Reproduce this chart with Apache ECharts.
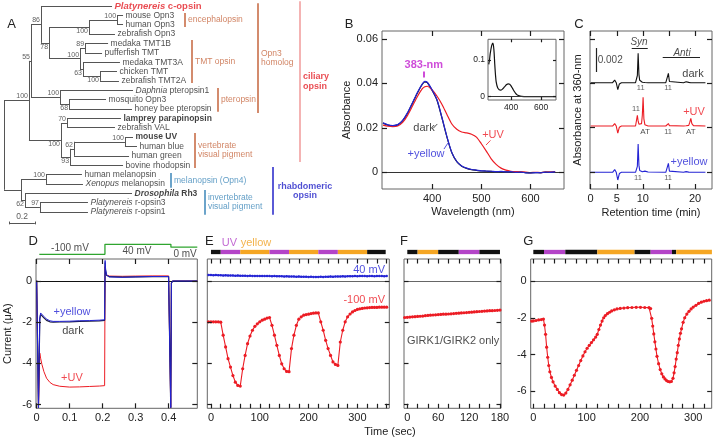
<!DOCTYPE html>
<html>
<head>
<meta charset="utf-8">
<script src="https://cdn.jsdelivr.net/npm/echarts@6.0.0/dist/echarts.min.js"></script>
<style>
html,body{margin:0;padding:0;background:#ffffff;}
#chart{width:713px;height:439px;}
</style>
</head>
<body>
<div id="chart"></div>
<script>
// ================= DATA =================
// ---- Panel A : phylogenetic tree ----
const leafLabels = [
  '{ri|Platynereis}{rb| c-opsin}',
  'mouse Opn3','human Opn3','zebrafish Opn3','medaka TMT1B','pufferfish TMT','medaka TMT3A','chicken TMT','zebrafish TMT2A',
  '{i|Daphnia} pteropsin1','mosquito Opn3','honey bee pteropsin',
  '{b|lamprey parapinopsin}','zebrafish VAL','{b|mouse UV}','human blue','human green','bovine rhodopsin',
  'human melanopsin','{i|Xenopus} melanopsin','{bi|Drosophila}{b| Rh3}','{i|Platynereis} r-opsin3','{i|Platynereis} r-opsin1'
];
const leafDepth = [0.844,0.930,0.930,0.867,0.813,0.766,0.906,0.883,0.898,1.008,0.797,1.000,0.914,0.867,1.008,1.039,0.977,0.930,0.609,0.617,1.000,0.656,0.656];
const nodeIds   = ['root','cil','n55','n86','n78','enc','mh','tmt','n89','n63','n100b','pter','n68','vert','n70','n93','n62b','n100c','rh','mel','n62','n97'];
const nodeDepth = [0,0.195,0.211,0.289,0.352,0.664,0.883,0.594,0.633,0.617,0.750,0.438,0.508,0.445,0.492,0.516,0.547,0.945,0.133,0.328,0.164,0.281];
const nodeKids  = [['cil','rh'],['n55','vert'],['n86','pter'],[0,'n78'],['enc','tmt'],['mh',3],[1,2],['n89','n63'],[4,5],[6,'n100b'],[7,8],[9,'n68'],[10,11],['n70','n93'],[12,13],['n62b',17],['n100c',16],[14,15],['mel','n62'],[18,19],[20,'n97'],[21,22]];
const nodeBoot  = [null,100,55,86,78,100,100,100,89,63,100,100,68,100,70,93,62,100,null,100,62,97];
const cladeNames = ['encephalopsin','TMT opsin','pteropsin','Opn3\nhomolog','vertebrate\nvisual pigment','ciliary\nopsin','melanopsin (Opn4)','invertebrate\nvisual pigment','rhabdomeric\nopsin'];
const scaleBarLength = 0.2;

// ---- Panel B : absorption spectra ----
const wavelength = [300,310,320,330,340,350,360,370,380,385,390,400,410,420,430,440,450,460,470,480,490,500,510,520,530,540,550,560,570,580,590,600,610,620,630,640,650];
const absDark   = [0.0221,0.0212,0.0209,0.0213,0.0232,0.0266,0.0311,0.0357,0.0396,0.0407,0.0403,0.0368,0.0323,0.0243,0.0158,0.0087,0.0047,0.0027,0.0017,0.0011,0.0008,0.0005,0.0004,0.0003,0.0002,0.0002,0.0001,0.0001,0,0,-0.0002,-0.0003,-0.0002,-0.0002,0,0,0.0001];
const absUV     = [0.0212,0.0207,0.0205,0.0208,0.0224,0.0256,0.0298,0.0341,0.0376,0.0385,0.0387,0.0370,0.0342,0.0305,0.0260,0.0217,0.0193,0.0181,0.0177,0.0171,0.0158,0.0128,0.0095,0.0060,0.0035,0.0018,0.0009,0.0004,0.0002,0.0001,0,-0.0002,-0.0001,-0.0002,0,0,0.0001];
const absYellow = [0.0222,0.0213,0.0210,0.0214,0.0233,0.0268,0.0313,0.0359,0.0398,0.0409,0.0405,0.0370,0.0325,0.0245,0.0160,0.0088,0.0048,0.0028,0.0018,0.0012,0.0009,0.0006,0.0005,0.0004,0.0002,0.0003,0.0001,0.0002,-0.0001,0,-0.0003,-0.0004,-0.0002,-0.0003,0,-0.0001,0.0001];
const insetWavelength = [250,255,260,270,278,285,290,295,300,310,320,330,340,350,360,370,380,390,400,410,420,430,440,450,470,500,550,600,650,700];
const insetAbs = [0.088,0.100,0.118,0.140,0.146,0.125,0.090,0.060,0.040,0.024,0.019,0.018,0.020,0.024,0.029,0.033,0.035,0.034,0.029,0.022,0.015,0.009,0.005,0.003,0.001,0,0,0,0,0];
const peakLambda = 383;
const bXTicks = [400,500,600], bYTicks = [0,0.02,0.04,0.06];
const insetXTicks = [400,600], insetYTicks = [0,0.1];

// ---- Panel C : HPLC ----
const retTime    = [0,4.2,4.6,4.9,5.2,5.5,5.9,8.6,8.8,8.95,9.1,9.25,9.4,9.55,9.75,9.9,10.05,10.2,10.4,10.7,11.0,14.4,14.7,14.9,15.1,15.4,17.8,18.3,18.8,19.0,19.2,19.4,19.7,22];
const hplcDark   = [0,0,0.00022,0,-0.00058,-0.0001,0,0,0.00005,0.0006,0.00245,0.0007,0.0002,0.0001,0.00006,0.00004,0.00003,0.00003,0.00002,0.00003,0,0,0.0001,0.00078,0.0001,0.00002,0,0.00008,0.00003,0.00001,0,0,0,0];
const hplcUV     = [0,0,0.0002,0,-0.0006,-0.0001,0,0,0.0001,0.0009,0.0004,0.00015,0.0001,0.0001,0.0002,0.0009,0.0024,0.0006,0.0001,0.00005,0,0,0.00003,0.0002,0.00003,0,0,0.00002,0.00005,0.0003,0.00064,0.0002,0.00003,0];
const hplcYellow = [0,0,0.00023,0,-0.00064,-0.0001,0,0,0.00004,0.0005,0.00236,0.0006,0.00015,0.0001,0.00006,0.00004,0.00005,0.00008,0.0001,0.00012,0.00003,0,0.0001,0.00075,0.0001,0.00002,0,0.00006,0.00002,0,0,0,0,0];
const cXTicks = [0,5,10,15,20];
const cXLabels = [0,5,10,20];
const cYTicks = [0.00142,0.00511,0.00881,0.0125];

// ---- Panel D : current traces ----
const dTime   = [0,0.005,0.0055,0.009,0.0095,0.012,0.016,0.022,0.03,0.04,0.05,0.07,0.1,0.13,0.16,0.19,0.206,0.2075,0.209,0.212,0.22,0.26,0.3,0.35,0.4,0.406,0.4065,0.408,0.4085,0.412,0.45,0.487];
const dDark   = [0.02,0.02,-6.15,-6.15,-1.85,-1.62,-1.67,-1.79,-1.91,-1.98,-2.0,-1.99,-1.98,-1.96,-1.95,-1.93,-1.91,0.9,0.5,0.28,0.21,0.19,0.2,0.21,0.22,0.22,-6.15,-6.15,-0.1,0,0,0];
const dUV     = [0.02,0.02,-6.15,-6.15,-3.5,-3.75,-4.05,-4.4,-4.72,-4.92,-5.03,-5.11,-5.15,-5.14,-5.12,-5.1,-5.08,0.7,0.4,0.3,0.24,0.23,0.24,0.25,0.25,0.25,-6.15,-6.15,-0.1,0,0,0];
const dYellow = [0.02,0.02,-6.15,-6.15,-1.8,-1.55,-1.6,-1.72,-1.85,-1.93,-1.96,-1.96,-1.95,-1.93,-1.92,-1.9,-1.88,1.0,0.55,0.3,0.2,0.18,0.2,0.22,0.22,0.22,-6.15,-6.15,-0.1,0,0,0];
const protoTime = [0.008,0.207,0.207,0.407,0.407,0.487];
const protoMv   = [-100,-100,40,40,0,0];
const dXTicks = [0,0.1,0.2,0.3,0.4];
const currentTicks = [0,-2,-4,-6];

// ---- Panel E ----
const eTime = [-5,0,5,10,15,20,25,30,35,40,45,50,55,60,65,70,75,80,85,90,95,100,105,110,115,120,125,130,135,140,145,150,155,160,165,170,175,180,185,190,195,200,205,210,215,220,225,230,235,240,245,250,255,260,265,270,275,280,285,290,295,300,305,310,315,320,325,330,335,340,345,350,355,360];
const eMinus100 = [-1.98,-1.98,-1.98,-1.98,-1.98,-2.0,-2.63,-3.2,-3.77,-4.18,-4.59,-4.91,-5.07,-5.1,-4.26,-3.61,-3.04,-2.67,-2.39,-2.2,-2.08,-1.98,-1.9,-1.85,-1.8,-1.77,-2.15,-2.63,-3.12,-3.61,-4.02,-4.26,-4.39,-4.4,-3.28,-2.63,-2.15,-1.85,-1.74,-1.66,-1.63,-1.61,-1.58,-1.56,-1.55,-1.55,-1.98,-2.39,-2.88,-3.28,-3.61,-3.93,-4.05,-4.1,-2.96,-2.39,-1.98,-1.74,-1.6,-1.5,-1.43,-1.38,-1.35,-1.33,-1.31,-1.3,-1.29,-1.28,-1.28,-1.28,-1.27,-1.27,-1.27,-1.27];
const ePlus40 = [0.29,0.29,0.28,0.29,0.28,0.28,0.27,0.28,0.27,0.27,
  0.27,0.26,0.27,0.26,0.26,0.26,0.25,0.26,0.25,0.25,
  0.25,0.24,0.25,0.24,0.24,0.24,0.23,0.24,0.23,0.23,
  0.23,0.22,0.23,0.22,0.22,0.22,0.21,0.22,0.21,0.21,
  0.21,0.20,0.21,0.20,0.20,0.20,0.21,0.20,0.21,0.21,
  0.22,0.21,0.22,0.22,0.22,0.23,0.22,0.23,0.23,0.23,
  0.24,0.23,0.24,0.24,0.24,0.23,0.24,0.24,0.23,0.24,
  0.24,0.24,0.23,0.24];
const eLightStart = [0,20,60,120,160,220,260,320];
const eLightEnd   = [20,60,120,160,220,260,320,358];
const eLight      = ['dark','UV','yellow','UV','yellow','UV','yellow','dark'];
const eXTicks = [0,100,200,300];
const eMinorTicks = [0,20,40,60,80,100,120,140,160,180,200,220,240,260,280,300,320,340,360];

// ---- Panel F ----
const fTime = [-5,0,5,10,15,20,25,30,35,40,45,50,55,60,65,70,75,80,85,90,95,100,105,110,115,120,125,130,135,140,145,150,155,160,165,170,175,180];
const fMinus100 = [-1.77,-1.76,-1.75,-1.74,-1.73,-1.72,-1.71,-1.70,-1.68,-1.67,-1.66,-1.65,-1.64,-1.63,-1.62,-1.61,-1.61,-1.60,-1.59,-1.58,-1.57,-1.56,-1.55,-1.54,-1.53,-1.52,-1.51,-1.50,-1.49,-1.48,-1.47,-1.46,-1.45,-1.44,-1.44,-1.43,-1.42,-1.41];
const fLightStart = [0,20,60,100,140];
const fLightEnd   = [20,60,100,140,180];
const fLight      = ['dark','yellow','dark','UV','dark'];
const fXTicks = [0,60,120,180];
const fMinorTicks = [0,20,40,60,80,100,120,140,160,180];

// ---- Panel G ----
const gTime = [-3,0,5,10,15,19,21,23,25,27,29,31,34,37,41,45,49,53,57,61,65,69,73,77,81,85,89,93,97,101,105,109,113,117,120,123,126,129,132,135,139,143,147,152,157,163,170,177,185,193,201,209,217,220,222,224,226,228,230,232,235,238,241,244,247,250,253,256,259,262,264,266,268,270,272,274,276,278,281,284,288,292,296,300,305,310,315,320,325,330];
const gMinus100 = [-2.18,-2.17,-2.15,-2.12,-2.1,-2.07,-2.4,-2.9,-3.6,-4.15,-4.6,-4.94,-5.25,-5.49,-5.72,-5.9,-6.08,-6.18,-6.21,-6.1,-5.9,-5.65,-5.4,-5.13,-4.86,-4.6,-4.33,-4.08,-3.85,-3.66,-3.5,-3.35,-3.2,-3.05,-2.9,-2.64,-2.4,-2.18,-2.0,-1.88,-1.78,-1.7,-1.63,-1.57,-1.52,-1.49,-1.47,-1.45,-1.44,-1.43,-1.43,-1.44,-1.45,-1.5,-2.03,-2.45,-2.88,-3.31,-3.7,-4.1,-4.5,-4.82,-5.05,-5.22,-5.33,-5.42,-5.47,-5.49,-5.47,-5.3,-5.0,-4.66,-4.25,-3.9,-3.5,-3.15,-2.85,-2.6,-2.25,-2.0,-1.8,-1.65,-1.52,-1.42,-1.32,-1.22,-1.15,-1.1,-1.07,-1.04];
const gLightStart = [0,20,60,120,190,220,260,268];
const gLightEnd   = [20,60,120,190,220,260,268,335];
const gLight      = ['dark','UV','dark','yellow','dark','UV','dark','yellow'];
const gXTicks = [0,100,200,300];
const gMinorTicks = [0,20,40,60,80,100,120,140,160,180,200,220,240,260,280,300,320];

// ================= STYLE / LAYOUT =================
const FONT = '"Liberation Sans", Arial, Helvetica, sans-serif';
const RED = '#ec1c24', BLUE = '#2424d4', BLACK = '#111111', GREEN = '#2fa52f', MAGENTA = '#c21fcf';
const BROWN = '#c5653d', TEAL = '#3b86b8', RHAB = '#2323c8';
const LIGHT_COLOR = {dark:'#111111', UV:'#b444c8', yellow:'#f5a623'};
const FRAME = '#666666';
const TICK = '#1e1e1e';

const option = {animation:false, backgroundColor:'#ffffff', textStyle:{fontFamily:FONT},
  grid:[], xAxis:[], yAxis:[], series:[], graphic:[]};

function labCfg(vals, fmt, fs, margin){
  return vals ? {show:true, customValues:vals, formatter:fmt, fontSize:fs||11, color:'#222', margin:margin==null?4:margin, fontFamily:FONT} : {show:false};
}
// panel = grid + axes (+ inward tick marks on all four sides, placed through the axis scales)
function addPanel(left, top, width, height, o){
  option.grid.push({left, top, width, height, show:!!o.frame, borderColor:FRAME, borderWidth:1,
    backgroundColor:'rgba(0,0,0,0)', containLabel:false, outerBoundsMode:'none'});
  const gi = option.grid.length - 1;
  const base = {type:'value', gridIndex:gi, axisLine:{show:false, onZero:false}, axisTick:{show:false},
    splitLine:{show:false}, silent:true, show:!o.hidden};
  const nts = {fontSize:11, color:'#222', fontFamily:FONT};
  const ax = {x:option.xAxis.length, y:option.yAxis.length};
  option.xAxis.push(Object.assign({}, base, {min:o.xmin, max:o.xmax, position:'bottom',
    axisLabel:labCfg(o.xl, o.xf, o.fs, o.xm), name:o.xn||'', nameLocation:'middle', nameGap:o.xng||20, nameTextStyle:nts}));
  option.yAxis.push(Object.assign({}, base, {min:o.ymin, max:o.ymax, inverse:!!o.yinv, position:'left',
    axisLabel:labCfg(o.yl, o.yf, o.fs, o.ym), name:o.yn||'', nameLocation:'middle', nameGap:o.yng||30, nameTextStyle:nts}));
  if (o.xt || o.yt){
    const L = o.tl || 5;
    const dy = L * (o.ymax - o.ymin) / height, dx = L * (o.xmax - o.xmin) / width;
    const segs = [];
    (o.xt||[]).forEach(v=>{
      segs.push({c:[[v, o.ymin],[v, o.ymin + dy]], color:TICK});
      segs.push({c:[[v, o.ymax],[v, o.ymax - dy]], color:TICK});
    });
    (o.yt||[]).forEach(v=>{
      segs.push({c:[[o.xmin, v],[o.xmin + dx, v]], color:TICK});
      segs.push({c:[[o.xmax, v],[o.xmax - dx, v]], color:TICK});
    });
    option.series.push(segSeries(ax, segs, 1.2, 8));
  }
  return ax;
}
function zeroLine(color){
  return {silent:true, symbol:['none','none'], label:{show:false}, lineStyle:{color, width:1, type:'solid'}, data:[{yAxis:0}]};
}
function lineSeries(ax, xs, ys, color, width, extra){
  return Object.assign({type:'line', xAxisIndex:ax.x, yAxisIndex:ax.y, data:xs.map((x,i)=>[x, ys[i]]),
    symbol:'none', lineStyle:{color, width}, itemStyle:{color}, silent:true, z:3}, extra||{});
}
function segSeries(ax, segs, width, z){
  return {type:'lines', coordinateSystem:'cartesian2d', xAxisIndex:ax.x, yAxisIndex:ax.y, polyline:false,
    silent:true, clip:false, z:z||3, lineStyle:{width, opacity:1},
    data:segs.map(s=>({coords:s.c, lineStyle:{color:s.color, width:s.w||width, opacity:1}}))};
}
function textSeries(ax, items){
  return {type:'scatter', xAxisIndex:ax.x, yAxisIndex:ax.y, symbolSize:0, silent:true, clip:false, z:10,
    data:items.map(it=>({value:[it.x, it.y], label:Object.assign({show:true, formatter:()=>String(it.t),
      position:it.pos||'inside', distance:it.d==null?2:it.d, fontSize:it.fs||11, color:it.c||'#222', fontFamily:FONT}, it.st||{})}))};
}
function lightSeries(ax, starts, ends, kinds){
  return segSeries(ax, starts.map((s,i)=>({c:[[s,0],[ends[i],0]], color:LIGHT_COLOR[kinds[i]]})), 4.3, 3);
}

// ================= PANEL A =================
const axA = addPanel(4, 0, 332.8, 226.05, {hidden:true, xmin:0, xmax:2.6, ymin:-0.64, ymax:23.5, yinv:true});
const nIdx = {}; nodeIds.forEach((id,i)=>nIdx[id]=i);
function rowOf(ref){ if (typeof ref === 'number') return ref; const k = nodeKids[nIdx[ref]]; return (rowOf(k[0]) + rowOf(k[k.length-1]))/2; }
function depthOf(ref){ return typeof ref === 'number' ? leafDepth[ref] : nodeDepth[nIdx[ref]]; }
const treeSegs = [];
nodeIds.forEach((id,i)=>{
  const k = nodeKids[i], d = nodeDepth[i];
  treeSegs.push({c:[[d, rowOf(k[0])],[d, rowOf(k[k.length-1])]], color:'#555'});
  k.forEach(ch=>{ const r = rowOf(ch); treeSegs.push({c:[[d, r],[depthOf(ch), r]], color:'#555'}); });
});
const sbRow = 23.17, sb0 = 0.041;
treeSegs.push({c:[[sb0, sbRow],[sb0+scaleBarLength, sbRow]], color:'#555'});
treeSegs.push({c:[[sb0, sbRow-0.15],[sb0, sbRow+0.15]], color:'#555'});
treeSegs.push({c:[[sb0+scaleBarLength, sbRow-0.15],[sb0+scaleBarLength, sbRow+0.15]], color:'#555'});
option.series.push(segSeries(axA, treeSegs, 1, 3));
const RICH = {
  i:{fontStyle:'italic', fontSize:8.5, fontFamily:FONT, color:'#222'},
  b:{fontWeight:'bold', fontSize:8.5, fontFamily:FONT, color:'#111'},
  bi:{fontWeight:'bold', fontStyle:'italic', fontSize:8.5, fontFamily:FONT, color:'#111'},
  ri:{fontWeight:'bold', fontStyle:'italic', fontSize:9.5, fontFamily:FONT, color:'#e41e26'},
  rb:{fontWeight:'bold', fontSize:9.5, fontFamily:FONT, color:'#e41e26'}
};
option.series.push({type:'scatter', xAxisIndex:axA.x, yAxisIndex:axA.y, symbolSize:0, silent:true, clip:false, z:5,
  data:leafLabels.map((t,i)=>({value:[leafDepth[i], i], label:{show:true, position:'right', distance:2.5,
    formatter:()=>t, fontSize:8.5, color:'#222', fontFamily:FONT, rich:RICH}}))});
const bootSide = ['','a','a','a','b','b','a','a','a','b','b','a','b','b','a','b','a','a','','a','b','a'];
const bootItems = [];
nodeIds.forEach((id,i)=>{ if (nodeBoot[i] != null) bootItems.push({x:nodeDepth[i], y:rowOf(id), t:nodeBoot[i], pos:'left', d:1, fs:7, c:'#333', st:{offset:[0, bootSide[i]==='a' ? -4 : 4]}}); });
option.series.push(textSeries(axA, bootItems));
option.series.push(textSeries(axA, [{x:sb0+scaleBarLength/2, y:22.5, t:String(scaleBarLength), fs:8.5, c:'#333'}]));
const cladeLayout = [
  {x:1.414, r0:0.75, r1:2.24, c:BROWN},
  {x:1.469, r0:3.63, r1:8.22, c:BROWN},
  {x:1.672, r0:8.76, r1:11.3, c:BROWN},
  {x:1.984, r0:-0.3, r1:11.43, c:BROWN},
  {x:1.492, r0:13.56, r1:17.3, c:BROWN},
  {x:2.313, r0:-0.5, r1:16.66, c:'#f19a9a', tc:'#e41e26', bold:true},
  {x:1.305, r0:17.83, r1:19.4, c:TEAL},
  {x:1.570, r0:19.65, r1:22.3, c:TEAL},
  {x:2.102, r0:17.2, r1:22.3, c:RHAB, bold:true, center:2.352}
];
option.series.push(segSeries(axA, cladeLayout.map(L=>({c:[[L.x, L.r0],[L.x, L.r1]], color:L.c})), 1.5, 3));
option.series.push(textSeries(axA, cladeLayout.map((L,i)=>({
  x: L.center || L.x, y:(L.r0+L.r1)/2, t:cladeNames[i], pos: L.center ? 'inside' : 'right', d:3,
  fs: L.bold ? 9 : 8.5, c: L.tc || L.c, st:{fontWeight: L.bold ? 'bold' : 'normal', lineHeight: L.bold ? 9.5 : 9, align: L.center ? 'center' : undefined}}))));

// ================= PANEL B =================
const axB = addPanel(382, 31, 182, 158, {frame:true, xmin:298, xmax:668, xt:bXTicks, xl:bXTicks, ymin:-0.0076, ymax:0.0636, yt:bYTicks, yl:bYTicks,
  yf:v=>v===0?'0':v.toFixed(2), xn:'Wavelength (nm)', xng:17, yn:'Absorbance', yng:28});
option.series.push(lineSeries(axB, wavelength, absDark, BLACK, 1.2, {z:3, smooth:0.25, markLine:zeroLine('#333')}));
option.series.push(lineSeries(axB, wavelength, absUV, RED, 1.2, {z:4, smooth:0.25}));
option.series.push(lineSeries(axB, wavelength, absYellow, BLUE, 1.2, {z:5, smooth:0.25}));
option.series.push(segSeries(axB, [
  {c:[[peakLambda,0.0427],[peakLambda,0.0454]], color:MAGENTA, w:1.6},
  {c:[[402.3,0.0198],[410.4,0.0217]], color:'#222'},
  {c:[[424,0.0104],[432,0.0131]], color:BLUE},
  {c:[[509.4,0.0122],[518.6,0.0143]], color:RED}
], 0.8, 6));
option.series.push(textSeries(axB, [
  {x:peakLambda, y:0.0483, t:'383-nm', c:MAGENTA, fs:11, st:{fontWeight:'bold'}},
  {x:383.4, y:0.0199, t:'dark', c:'#111'},
  {x:387.5, y:0.0082, t:'+yellow', c:BLUE},
  {x:523.7, y:0.0167, t:'+UV', c:RED}
]));
const axI = addPanel(488, 39.3, 68, 60.7, {frame:true, xmin:245, xmax:700, xt:insetXTicks, xl:insetXTicks, ymin:-0.009, ymax:0.1565, yt:insetYTicks, yl:insetYTicks,
  yf:v=>v===0?'0':v.toFixed(1), fs:8.5, tl:3, xm:3, ym:3});
option.series.push(lineSeries(axI, insetWavelength, insetAbs, BLACK, 1.2, {z:4, smooth:0.3, markLine:zeroLine('#333')}));

// ================= PANEL C =================
const C_BASE = {dark:0.00886, uv:0.00525, yellow:0.00139};
const axC = addPanel(590, 31, 122, 158, {frame:true, xmin:-0.13, xmax:23.26, xt:cXTicks, xl:cXLabels, ymin:0, ymax:0.01317,
  yt:cYTicks, xn:'Retention time (min)', xng:18, yn:'Absorbance at 360-nm', yng:7});
option.series.push(lineSeries(axC, retTime, hplcDark.map(v=>v+C_BASE.dark), BLACK, 1.1, {z:4}));
option.series.push(lineSeries(axC, retTime, hplcUV.map(v=>v+C_BASE.uv), RED, 1.1, {z:4}));
option.series.push(lineSeries(axC, retTime, hplcYellow.map(v=>v+C_BASE.yellow), BLUE, 1.1, {z:4}));
option.series.push(segSeries(axC, [
  {c:[[7.87,0.01175],[10.94,0.01175]], color:'#222'},
  {c:[[13.81,0.0110],[20.96,0.0110]], color:'#222'},
  {c:[[1.15,0.01175],[1.15,0.00975]], color:'#222', w:1.2}
], 1, 5));
option.series.push(textSeries(axC, [
  {x:9.27, y:0.01225, t:'Syn', fs:10, st:{fontStyle:'italic'}},
  {x:17.51, y:0.01134, t:'Anti', fs:10, st:{fontStyle:'italic'}},
  {x:1.35, y:0.01075, t:'0.002', fs:10, pos:'right', d:0},
  {x:19.62, y:0.00959, t:'dark', fs:11, c:'#111'},
  {x:19.81, y:0.00642, t:'+UV', fs:11, c:RED},
  {x:18.85, y:0.00225, t:'+yellow', fs:11, c:BLUE},
  {x:9.59, y:0.00842, t:'11', fs:7.5, c:'#333'},
  {x:14.83, y:0.00842, t:'11', fs:7.5, c:'#333'},
  {x:8.69, y:0.00667, t:'11', fs:7.5, c:'#333'},
  {x:10.42, y:0.00475, t:'AT', fs:8, c:'#222'},
  {x:14.83, y:0.00475, t:'11', fs:7.5, c:'#333'},
  {x:19.18, y:0.00475, t:'AT', fs:8, c:'#222'},
  {x:9.07, y:0.00092, t:'11', fs:7.5, c:'#333'},
  {x:14.83, y:0.00092, t:'11', fs:7.5, c:'#333'}
]));

// ================= PANEL D =================
const axD = addPanel(36, 259, 161.3, 149.3, {frame:true, xmin:-0.002, xmax:0.487, xt:dXTicks, xl:dXTicks, xf:v=>v===0?'0':v.toFixed(1),
  ymin:-6.18, ymax:1.07, yt:currentTicks, yl:currentTicks, yn:'Current (\u03bcA)', yng:23});
option.series.push(lineSeries(axD, dTime, dUV, RED, 1, {z:3, markLine:zeroLine('#111')}));
option.series.push(lineSeries(axD, dTime, dDark, '#1a1a40', 1.2, {z:4}));
option.series.push(lineSeries(axD, dTime, dYellow, BLUE, 1, {z:5}));
option.series.push(textSeries(axD, [
  {x:0.107, y:-1.505, t:'+yellow', c:BLUE},
  {x:0.110, y:-2.43, t:'dark', c:'#111'},
  {x:0.107, y:-4.71, t:'+UV', c:RED}
]));
const axDp = addPanel(36, 244.3, 161.3, 10, {hidden:true, xmin:-0.002, xmax:0.487, ymin:-100, ymax:40});
option.series.push(lineSeries(axDp, protoTime, protoMv, GREEN, 1.3, {z:3, clip:false}));
option.series.push(textSeries(axDp, [
  {x:0.101, y:-11.8, t:'-100 mV', fs:10},
  {x:0.304, y:-53.8, t:'40 mV', fs:10},
  {x:0.45, y:-95.8, t:'0 mV', fs:10}
]));

// ================= PANEL E =================
const axE = addPanel(207.3, 259, 182, 149.3, {frame:true, xmin:-7.5, xmax:365.4, xt:eMinorTicks, xl:eXTicks, ymin:-6.18, ymax:1.07, yt:currentTicks, tl:4.5});
option.series.push(lineSeries(axE, eTime, ePlus40, BLUE, 1.4, {z:4, symbol:'circle', symbolSize:2.5, showSymbol:true, markLine:zeroLine('#666')}));
option.series.push(lineSeries(axE, eTime, eMinus100, RED, 1.1, {z:5, symbol:'circle', symbolSize:3.2, showSymbol:true}));
option.series.push(textSeries(axE, [
  {x:356.6, y:0.535, t:'40 mV', c:BLUE, pos:'left', d:0},
  {x:356.6, y:-0.925, t:'-100 mV', c:RED, pos:'left', d:0}
]));
const axEl = addPanel(207.3, 250, 182, 4.3, {hidden:true, xmin:-7.5, xmax:365.4, ymin:-1, ymax:1});
option.series.push(lightSeries(axEl, eLightStart, eLightEnd, eLight));
option.series.push(textSeries(axEl, [
  {x:22, y:4.26, t:'UV', c:'#b444c8', pos:'right', d:0},
  {x:61, y:4.26, t:'yellow', c:'#f0a020', pos:'right', d:0}
]));

// ================= PANEL F =================
const axF = addPanel(404, 259, 97, 149.3, {frame:true, xmin:-6.4, xmax:182, xt:fMinorTicks, xl:fXTicks, ymin:-6.18, ymax:1.07, yt:currentTicks, tl:4.5});
option.series.push(lineSeries(axF, fTime, fMinus100, RED, 1.1, {z:5, symbol:'circle', symbolSize:3.2, showSymbol:true, markLine:zeroLine('#666')}));
option.series.push(textSeries(axF, [{x:-0.6, y:-2.92, t:'GIRK1/GIRK2 only', pos:'right', d:0}]));
const axFl = addPanel(404, 250, 97, 4.3, {hidden:true, xmin:-6.4, xmax:182, ymin:-1, ymax:1});
option.series.push(lightSeries(axFl, fLightStart, fLightEnd, fLight));

// ================= PANEL G =================
const axG = addPanel(530.7, 259, 181, 149.3, {frame:true, xmin:-4.9, xmax:334.6, xt:gMinorTicks, xl:gXTicks, ymin:-6.93, ymax:1.2, yt:currentTicks, yl:currentTicks, tl:4.5});
option.series.push(lineSeries(axG, gTime, gMinus100, RED, 1.1, {z:5, symbol:'circle', symbolSize:3.2, showSymbol:true, markLine:zeroLine('#666')}));
const axGl = addPanel(530.7, 250, 181, 4.3, {hidden:true, xmin:-4.9, xmax:334.6, ymin:-1, ymax:1});
option.series.push(lightSeries(axGl, gLightStart, gLightEnd, gLight));

// ================= TEXT =================
function gText(t, x, y, fs, extra){
  return Object.assign({type:'text', x, y, silent:true, z:20, style:{text:t, fontSize:fs, fontFamily:FONT, fill:'#222',
    font: fs + 'px ' + FONT, align:'center', verticalAlign:'middle', textAlign:'center', textVerticalAlign:'middle'}}, extra||{});
}
option.graphic = [
  gText('A', 11.7, 24, 13), gText('B', 349, 24, 13), gText('C', 579, 24, 13),
  gText('D', 33.3, 241.7, 13), gText('E', 209.3, 241.7, 13), gText('F', 404, 241.7, 13), gText('G', 528.3, 241.7, 13),
  gText('Time (sec)', 390, 432, 11)
];

const chart = echarts.init(document.getElementById('chart'), null, {renderer:'canvas'});
chart.setOption(option);
</script>
</body>
</html>
